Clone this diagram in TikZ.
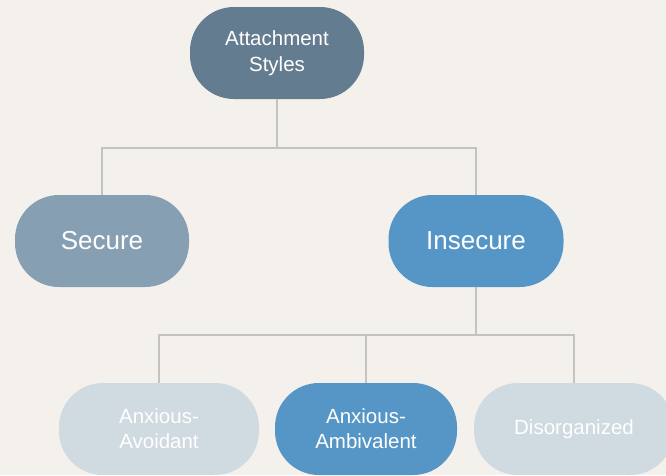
\documentclass[tikz,border=0pt]{standalone}
\usepackage{fontspec}
\setmainfont{Liberation Sans}
\usetikzlibrary{positioning}

\definecolor{paper}{HTML}{F4F1EC}
\definecolor{rootcol}{HTML}{647C90}
\definecolor{securecol}{HTML}{879FB2}
\definecolor{insecurecol}{HTML}{5596C6}
\definecolor{palecol}{HTML}{CFDAE1}
\definecolor{wirecol}{HTML}{C3C3C3}

\begin{document}
\begin{tikzpicture}[
  x=1pt, y=1pt,
  pill/.style={rectangle,rounded corners=44pt,minimum height=92pt,
               text=white,align=center,inner sep=0pt},
  link/.style={draw=wirecol,line width=1.6pt},
]

\fill[paper] (0,0) rectangle (666,-475);
\useasboundingbox (0,0) rectangle (666,-475);

\node[pill,fill=rootcol,minimum width=174pt,font=\fontsize{20.5}{26}\selectfont]
  (root) at (277,-53) {Attachment\\Styles};

\node[pill,fill=securecol,minimum width=174pt,font=\fontsize{26}{30}\selectfont]
  (secure) at (102,-241) {Secure};
\node[pill,fill=insecurecol,minimum width=175pt,font=\fontsize{26}{30}\selectfont]
  (insecure) at (476,-241) {Insecure};

\begin{scope}[every node/.append style={font=\fontsize{20.5}{25}\selectfont}]
\node[pill,fill=palecol,minimum width=200pt] (avoidant) at (159,-429)
  {Anxious-\\Avoidant};
\node[pill,fill=insecurecol,minimum width=182pt] (ambivalent) at (366,-429)
  {Anxious-\\Ambivalent};
\node[pill,fill=palecol,minimum width=200pt] (disorg) at (574,-429)
  {Disorganized};
\end{scope}

% tree wiring
\coordinate (fork1) at (277,-148);
\coordinate (fork2) at (476,-335);

\draw[link] (root.south) -- (fork1);
\draw[link] (fork1) -| (secure.north);
\draw[link] (fork1) -| (insecure.north);

\draw[link] (insecure.south) -- (fork2);
\draw[link] (fork2) -| (avoidant.north);
\draw[link] (fork2) -| (ambivalent.north);
\draw[link] (fork2) -| (disorg.north);

\end{tikzpicture}
\end{document}
